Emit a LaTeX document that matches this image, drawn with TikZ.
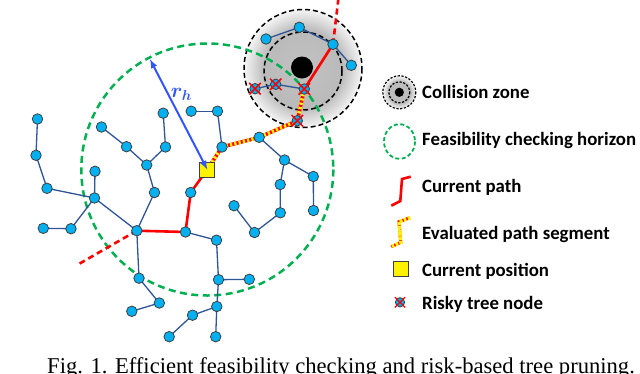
\documentclass[tikz,border=0pt]{standalone}
\usepackage{fontspec}
\usepackage{bm}
\usetikzlibrary{shapes.misc}
\newfontfamily\legfont{Carlito}
\newfontfamily\capfont{Liberation Serif}
\definecolor{nodeblue}{RGB}{0,176,240}
\definecolor{edgeblue}{RGB}{47,85,151}
\definecolor{nodeedge}{RGB}{64,64,64}
\definecolor{hgreen}{RGB}{0,176,80}
\definecolor{pathred}{RGB}{255,0,0}
\definecolor{rhblue}{RGB}{51,85,255}
\pgfdeclareradialshading{czone}{\pgfpoint{0bp}{0bp}}{color(0bp)=(gray!48); color(16.5bp)=(gray!54); color(25bp)=(gray!8); color(50bp)=(gray!8)}
\begin{document}
\begin{tikzpicture}[x=1pt,y=-1pt,
  tnode/.style={circle,fill=nodeblue,draw=nodeedge,line width=0.8pt,inner sep=0pt,minimum size=10.5pt},
  tedge/.style={draw=edgeblue,line width=1.3pt},
  curpath/.style={draw=pathred,line width=2.6pt},
  curdash/.style={draw=pathred,line width=2.6pt,dash pattern=on 6pt off 4pt},
  evalpath/.style={draw=pathred,line width=3.6pt,postaction={draw=yellow,line width=3.6pt,dash pattern=on 2.2pt off 2.2pt}},
  riskx/.style={cross out,draw=pathred,line width=1.5pt,inner sep=0pt,minimum size=10pt},
  horizon/.style={draw=hgreen,line width=2.5pt,dash pattern=on 7pt off 4.5pt},
  zonecirc/.style={draw=black,line width=1.5pt,dash pattern=on 5pt off 3pt},
  possq/.style={rectangle,fill=yellow,draw=nodeedge,line width=1pt,minimum size=15pt,inner sep=0pt},
  legtext/.style={anchor=base west,inner sep=0pt,font=\legfont\bfseries\fontsize{18.8}{20}\selectfont}
]
\useasboundingbox (0,0) rectangle (640,373);
% coordinates of tree nodes
\coordinate (A1) at (37.5,119);
\coordinate (A2) at (36,155.3);
\coordinate (A3) at (47,188.3);
\coordinate (A4) at (94.5,198);
\coordinate (A5) at (95,171.3);
\coordinate (B1) at (101.5,127);
\coordinate (B2) at (126.5,146.7);
\coordinate (B3) at (146.7,165);
\coordinate (B4) at (165.5,147);
\coordinate (B5) at (163.2,113.2);
\coordinate (B6) at (154.5,192.5);
\coordinate (C1) at (191.2,111.2);
\coordinate (C2) at (217.5,111.2);
\coordinate (C3) at (222,147);
\coordinate (SQ) at (207.3,169.5);
\coordinate (G) at (190.7,192.5);
\coordinate (F) at (185.5,232);
\coordinate (E) at (136.8,230.7);
\coordinate (D1) at (43.3,228.3);
\coordinate (D2) at (71,228.7);
\coordinate (H) at (139,278.2);
\coordinate (H2) at (159.3,303);
\coordinate (H3) at (131.8,311.3);
\coordinate (K) at (216.5,240.2);
\coordinate (P1) at (218.5,279.7);
\coordinate (P2) at (249.3,279.3);
\coordinate (P3) at (216.8,306.5);
\coordinate (I1) at (192.5,315.2);
\coordinate (I2) at (169.2,336.7);
\coordinate (P5) at (215.7,336.7);
\coordinate (J1) at (234,205.7);
\coordinate (J2) at (254.5,232.5);
\coordinate (N2) at (280.3,212.8);
\coordinate (N1) at (280.2,184.5);
\coordinate (L2) at (284.5,160);
\coordinate (M1) at (313.3,176.5);
\coordinate (M2) at (313.5,210.5);
\coordinate (L1) at (259.2,137.3);
\coordinate (R1) at (297.3,120.7);
\coordinate (R2) at (304.3,89);
\coordinate (R3) at (275.7,84.3);
\coordinate (R4) at (255,88.7);
\coordinate (T1) at (266,39);
\coordinate (T2) at (299.3,27.3);
\coordinate (T3) at (333,44.3);
\coordinate (T4) at (351.3,65.3);
\coordinate (Eend) at (78.3,264.3);
\coordinate (Tend) at (338.6,-3);
\coordinate (Rtip) at (150,59.3);
% collision zone
\coordinate (CZ) at (303,68.5);
\coordinate (CZin) at (303,71);
\shade[shading=czone] (CZ) circle[radius=59];
\draw[zonecirc] (CZ) circle[radius=59];
\draw[zonecirc] (CZin) circle[radius=39];
\fill[black] (302,67.5) circle[radius=11];
% horizon
\draw[horizon] (SQ) circle[radius=126];
% tree edges
\foreach \a/\b in {A1/A2,A2/A3,A3/A4,A4/A5,A4/E,A4/D2,D2/D1,E/B6,B6/B3,B3/B2,B2/B1,B3/B4,B4/B5,
  E/H,H/H2,H2/H3,F/K,K/P1,P1/P2,P1/P3,P3/I1,I1/I2,P3/P5,C1/C2,C2/C3,L1/L2,L2/M1,M1/M2,
  L2/N1,N1/N2,N2/J2,J2/J1,R4/R3,R3/R2,T1/T2,T2/T3,T3/T4}
  \draw[tedge] (\a) -- (\b);
% paths
\draw[curdash] (E) -- (Eend);
\draw[curdash] (T3) -- (Tend);
\draw[curpath,line join=round] (E) -- (F) -- (G) -- (SQ);
\draw[curpath] (R2) -- (T3);
\draw[evalpath] (SQ) -- (C3) -- (L1) -- (R1) -- (R2);
% nodes
\foreach \n in {A1,A2,A3,A4,A5,B1,B2,B3,B4,B5,B6,C1,C2,C3,G,F,E,D1,D2,H,H2,H3,K,P1,P2,P3,I1,I2,P5,
  J1,J2,N1,N2,L2,M1,M2,L1,R1,R2,R3,R4,T1,T2,T3,T4}
  \node[tnode] (n\n) at (\n) {};
\foreach \n in {R1,R2,R3,R4}
  \node[riskx] (x\n) at (\n) {};
\node[possq] (nSQ) at (SQ) {};
% radius arrow
\draw[rhblue,line width=2pt,<->,>=latex] (nSQ.center) -- (Rtip);
\node[text=rhblue,inner sep=0pt,font=\fontsize{21}{23}\selectfont] (rh) at (181.5,94) {$\bm{r_h}$};
% legend
\coordinate (LZ) at (399.3,92.3);
\shade[shading=czone] (LZ) circle[radius=16.5];
\draw[black,line width=1.2pt,dash pattern=on 2.2pt off 1.6pt] (LZ) circle[radius=16.5];
\draw[black,line width=1.2pt,dash pattern=on 2.2pt off 1.6pt] (LZ) circle[radius=10.5];
\fill[black] (LZ) circle[radius=4.6];
\node[legtext] (l1) at (422,98.3) {Collision zone};
\draw[draw=hgreen,line width=1.8pt,dash pattern=on 4pt off 2.5pt] (399.5,141.5) ellipse[x radius=15.5,y radius=17.3];
\node[legtext] (l2) at (422,145.5) {Feasibility checking horizon};
\draw[curpath] (410.7,176.7) -- (402,179) -- (400.3,201) -- (391.3,205.7);
\node[legtext] (l3) at (422,192) {Current path};
\draw[evalpath,line width=3pt,postaction={draw=yellow,line width=3pt,dash pattern=on 2pt off 2pt}] (410,217.7) -- (399,221.7) -- (400.7,242.3) -- (391.3,246.7);
\node[legtext] (l4) at (422,239.3) {Evaluated path segment};
\node[possq] (lsq) at (401,269) {};
\node[legtext] (l5) at (422,276) {Current position};
\node[tnode,minimum size=9.3pt] (lrn) at (400,302.3) {};
\node[riskx,minimum size=9pt,line width=1.3pt] (lrx) at (400,302.3) {};
\node[legtext] (l6) at (422,309.3) {Risky tree node};
% caption (cut by the page edge, as in the reference)
\node[anchor=base west,inner sep=0pt,font=\capfont\fontsize{22.6}{24}\selectfont] (cap) at (47,373.5) {Fig. 1. Efficient feasibility checking and risk-based tree pruning.};
\end{tikzpicture}
\end{document}
